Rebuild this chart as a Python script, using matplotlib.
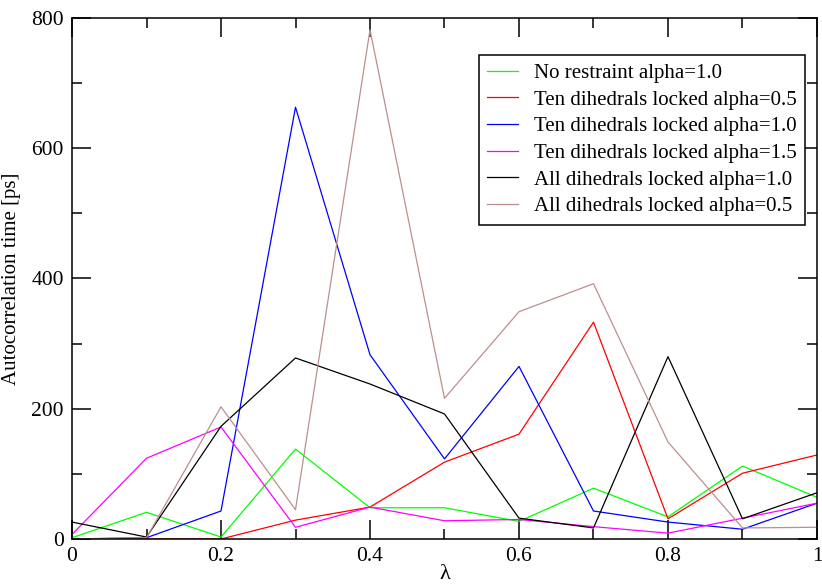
import numpy as np
import matplotlib
matplotlib.use("Agg")
import matplotlib.pyplot as plt
from matplotlib.ticker import MultipleLocator

plt.rcParams['font.family'] = ['Liberation Serif', 'DejaVu Serif']
plt.rcParams['mathtext.fontset'] = 'dejavuserif'

lam = [0.0, 0.1, 0.2, 0.3, 0.4, 0.5, 0.6, 0.7, 0.8, 0.9, 1.0]

# autocorrelation times [ps] for each run
no_restraint_a10 = [2, 41, 3, 138, 48, 48, 27, 78, 34, 112, 64]
ten_locked_a05 = [0, 0, 0, 29, 49, 118, 161, 333, 31, 101, 129]
ten_locked_a10 = [0, 2, 43, 663, 283, 123, 265, 43, 26, 15, 55]
ten_locked_a15 = [7, 124, 172, 18, 49, 28, 30, 19, 9, 32, 55]
all_locked_a10 = [26, 3, 173, 278, 238, 192, 32, 17, 280, 31, 71]
all_locked_a05 = [0, 2, 203, 45, 782, 216, 349, 392, 149, 17, 18]

series = [
    ("No restraint alpha=1.0", no_restraint_a10, "#00ff00"),
    ("Ten dihedrals locked alpha=0.5", ten_locked_a05, "#ff0000"),
    ("Ten dihedrals locked alpha=1.0", ten_locked_a10, "#0000ff"),
    ("Ten dihedrals locked alpha=1.5", ten_locked_a15, "#ff00ff"),
    ("All dihedrals locked alpha=1.0", all_locked_a10, "#000000"),
    ("All dihedrals locked alpha=0.5", all_locked_a05, "#bc8f8f"),
]

fig = plt.figure(figsize=(8.22, 5.86), dpi=100)
ax = fig.add_axes([0.0876, 0.0802, 0.9063, 0.8891])

for name, vals, col in series:
    ax.plot(lam, vals, color=col, lw=0.9, label=name)

ax.set_xlim(0, 1)
ax.set_ylim(0, 800)
ax.xaxis.set_major_locator(MultipleLocator(0.2))
ax.xaxis.set_minor_locator(MultipleLocator(0.1))
ax.yaxis.set_major_locator(MultipleLocator(200))
ax.yaxis.set_minor_locator(MultipleLocator(100))
ax.xaxis.set_major_formatter(plt.FuncFormatter(lambda v, p: "%g" % round(v, 1)))
ax.tick_params(which='both', direction='in', top=True, right=True, labelsize=15.5, width=1.1)
ax.tick_params(which='major', length=14, pad=6)
ax.tick_params(which='minor', length=7)
for s in ax.spines.values():
    s.set_linewidth(1.1)

ax.set_xlabel("λ", fontsize=16, labelpad=-1)
ax.set_ylabel("Autocorrelation time [ps]", fontsize=15, labelpad=7)

leg = ax.legend(loc='upper right', bbox_to_anchor=(0.984, 0.929), fontsize=15,
                fancybox=False, framealpha=1, edgecolor='black',
                handlelength=1.5, handletextpad=0.75, labelspacing=0.34,
                borderpad=0.4, borderaxespad=0)
leg.get_frame().set_linewidth(1.1)

fig.savefig("out.png", dpi=100)
